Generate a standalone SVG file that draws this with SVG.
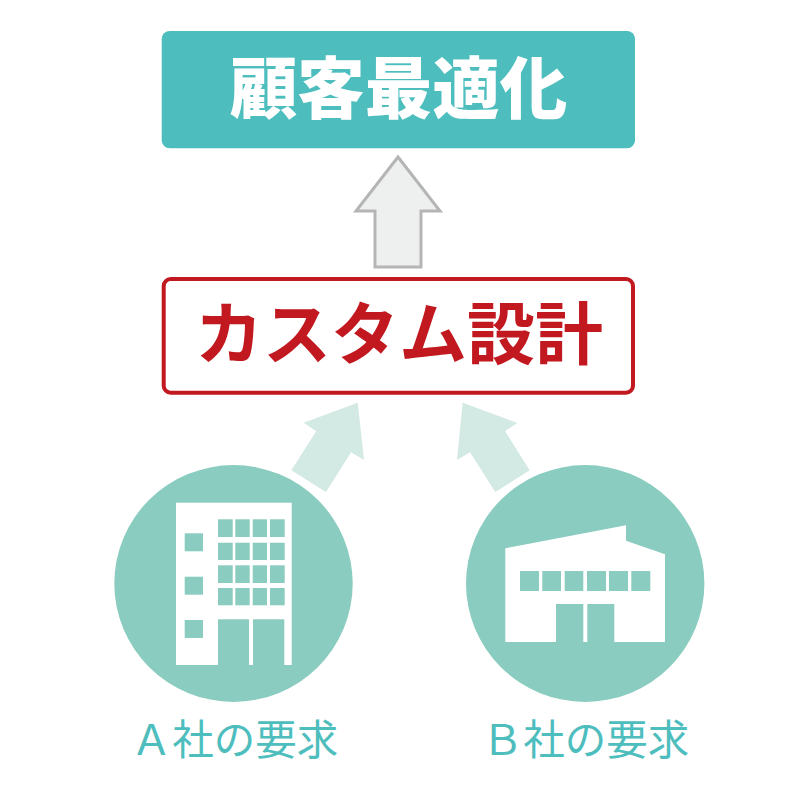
<svg xmlns="http://www.w3.org/2000/svg" width="800" height="800" viewBox="0 0 800 800">
<style>
.t{font-family:"Noto Sans CJK JP","Liberation Sans",sans-serif;text-anchor:middle}
.b{font-weight:900;font-size:67.500px}
.m{font-weight:700;font-size:68px}
.l{font-size:41.500px;fill:#4dbdbd;font-weight:400}
.c{fill:#8accbf}
.w{fill:#fff}
.a{fill:#d2e9e4}
</style>
<rect width="800" height="800" fill="#fff"/>
<g id="connectors">
<path d="M398 157L440 211H421V267H375V211H356Z" fill="#eef0ef" stroke="#b5b5b5" stroke-width="3"/>
<path class="a" d="M357.700 402.700L364 460L351 452.300L326 492L291.300 470.300L316.300 431.300L303.700 422.700Z"/>
<path class="a" d="M462.700 402.700L517.300 423L505 431L529.700 470.300L495.300 492L470 452.300L457 460Z"/>
</g>
<g id="top"><rect x="161.700" y="31" width="473.300" height="117.300" rx="8" fill="#4dbdbd"/><text class="t b" x="398.500" y="113" fill="#fff">顧客最適化</text></g>
<g id="mid"><rect x="163.700" y="279" width="469.300" height="113.700" rx="7" fill="#fff" stroke="#c1191f" stroke-width="4"/><text class="t m" x="399" y="359" fill="#c1191f">カスタム設計</text></g>
<g id="a"><ellipse class="c" cx="233.500" cy="583.500" rx="119.200" ry="118.400"/>
<rect class="w" x="176" y="502.700" width="115.700" height="162.300"/>
<g class="c"><rect x="184.700" y="533.300" width="18.300" height="18"/><rect x="184.700" y="576.700" width="18.300" height="18"/><rect x="184.700" y="620" width="18.300" height="18"/>
<rect x="218" y="619.300" width="31" height="45.700"/><rect x="253" y="619.300" width="31.300" height="45.700"/>
<rect x="218" y="519.300" width="14.700" height="17.700"/><rect x="235.300" y="519.300" width="14.400" height="17.700"/><rect x="252.700" y="519.300" width="14.300" height="17.700"/><rect x="270" y="519.300" width="14.700" height="17.700"/>
<rect x="218" y="542.700" width="14.700" height="17.300"/><rect x="235.300" y="542.700" width="14.400" height="17.300"/><rect x="252.700" y="542.700" width="14.300" height="17.300"/><rect x="270" y="542.700" width="14.700" height="17.300"/>
<rect x="218" y="565.300" width="14.700" height="17.700"/><rect x="235.300" y="565.300" width="14.400" height="17.700"/><rect x="252.700" y="565.300" width="14.300" height="17.700"/><rect x="270" y="565.300" width="14.700" height="17.700"/>
<rect x="218" y="588" width="14.700" height="17.300"/><rect x="235.300" y="588" width="14.400" height="17.300"/><rect x="252.700" y="588" width="14.300" height="17.300"/><rect x="270" y="588" width="14.700" height="17.300"/></g>
<text class="t l" x="234.500" y="755">Ａ社の要求</text></g>
<g id="b"><ellipse class="c" cx="585.200" cy="583.500" rx="119.200" ry="118.400"/>
<path class="w" d="M505.300 548.300L626 525.300V540.700L665 554.300V642H505.300Z"/>
<g class="c"><rect x="520" y="571" width="19" height="20"/><rect x="542.300" y="571" width="18.700" height="20"/><rect x="564.700" y="571" width="18.600" height="20"/><rect x="587" y="571" width="19" height="20"/><rect x="609" y="571" width="19" height="20"/><rect x="631.300" y="571" width="19" height="20"/>
<rect x="556" y="604" width="27.300" height="38"/><rect x="587.300" y="604" width="27" height="38"/></g>
<text class="t l" x="585.500" y="755">Ｂ社の要求</text></g>
</svg>
